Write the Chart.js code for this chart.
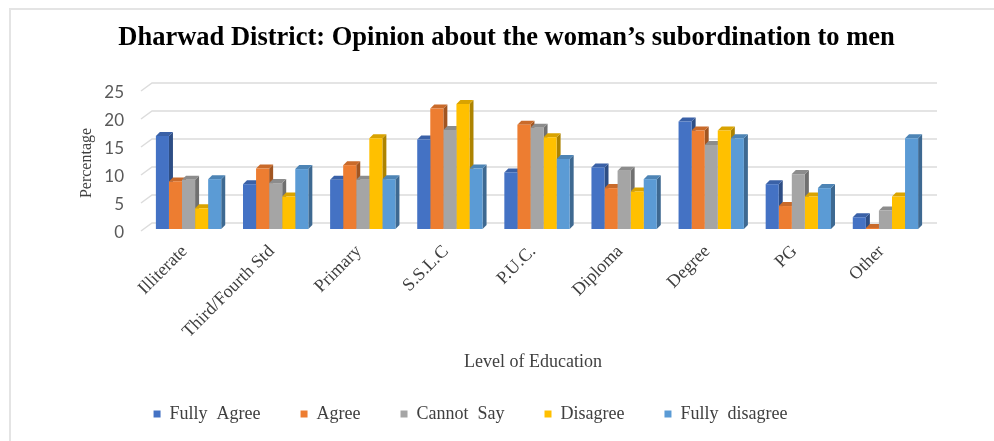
<!DOCTYPE html>
<html>
<head>
<meta charset="utf-8">
<script src="https://cdn.jsdelivr.net/npm/chart.js@4.4.1/dist/chart.umd.min.js"></script>
<style>
  html, body { margin: 0; padding: 0; background: #fff; }
  #wrap { position: relative; width: 994px; height: 441px; overflow: hidden; }
  #frame { position: absolute; left: 9px; top: 8px; width: 1000px; height: 450px;
           border-left: 2px solid #e4e4e4; border-top: 2px solid #e4e4e4; }
  canvas { position: absolute; left: 0; top: 0; }
</style>
</head>
<body>
<div id="wrap">
  <div id="frame"></div>
  <canvas id="chart" width="994" height="441"></canvas>
</div>
<script>
// Level of education groups
const categories = ['Illiterate', 'Third/Fourth Std', 'Primary', 'S.S.L.C', 'P.U.C.', 'Diploma', 'Degree', 'PG', 'Other'];

// Opinion shares (%) per education level
const fullyAgree    = [16.6, 8.0, 8.8, 16.0, 10.1, 11.0, 19.2, 8.0, 2.1];
const agree         = [8.5, 10.8, 11.4, 21.5, 18.6, 7.3, 17.6, 4.1, 0.2];
const cannotSay     = [8.8, 8.2, 8.8, 17.7, 18.1, 10.4, 15.0, 9.8, 3.3];
const disagree      = [3.7, 5.8, 16.2, 22.3, 16.4, 6.7, 17.6, 5.8, 5.8];
const fullyDisagree = [8.9, 10.7, 8.9, 10.8, 12.5, 8.9, 16.2, 7.3, 16.2];

const seriesNames = ['Fully  Agree', 'Agree', 'Cannot  Say', 'Disagree', 'Fully  disagree'];
const seriesColors = ['#4472C4', '#ED7D31', '#A5A5A5', '#FFC000', '#5B9BD5'];
const yTicks = [0, 5, 10, 15, 20, 25];

const SERIF = "'Liberation Serif', 'Times New Roman', serif";

// Bar depth for the pseudo-3D look, and how far the back wall sits behind the axis
const DEPTH = 4;
const BAR_SHIFT = { x: 4, y: -4 };
const WALL = { x: 11, y: -8, lift: -2 };

function shade(hex, f) {
  const n = parseInt(hex.slice(1), 16);
  const r = Math.round(((n >> 16) & 255) * f);
  const g = Math.round(((n >> 8) & 255) * f);
  const b = Math.round((n & 255) * f);
  return `rgb(${r},${g},${b})`;
}

// Back-wall gridlines plus the side/top faces of every bar
const bars3d = {
  id: 'bars3d',
  beforeDatasetsDraw(chart) {
    const ctx = chart.ctx;
    const { left, right } = chart.chartArea;
    const y = chart.scales.y;
    ctx.save();
    ctx.strokeStyle = '#dcdcdc';
    ctx.lineWidth = 1.5;
    yTicks.forEach(v => {
      const py = y.getPixelForValue(v) + WALL.lift;
      ctx.beginPath();
      ctx.moveTo(left, py);
      ctx.lineTo(left + WALL.x, py + WALL.y);
      ctx.lineTo(right + WALL.x + 1, py + WALL.y);
      ctx.stroke();
    });
    ctx.restore();

    ctx.save();
    ctx.translate(BAR_SHIFT.x, BAR_SHIFT.y);
    const metas = chart.data.datasets.map((d, i) => chart.getDatasetMeta(i));
    for (let c = 0; c < categories.length; c++) {
      metas.forEach((meta, di) => {
        const el = meta.data[c];
        if (!el) return;
        const { x, y: top, base, width } = el.getProps(['x', 'y', 'base', 'width']);
        const l = x - width / 2, r = x + width / 2;
        const col = seriesColors[di];
        // right side face
        ctx.fillStyle = shade(col, 0.68);
        ctx.beginPath();
        ctx.moveTo(r, top);
        ctx.lineTo(r + DEPTH, top - DEPTH);
        ctx.lineTo(r + DEPTH, base - DEPTH);
        ctx.lineTo(r, base);
        ctx.closePath();
        ctx.fill();
        // top face
        ctx.fillStyle = shade(col, 0.85);
        ctx.beginPath();
        ctx.moveTo(l, top);
        ctx.lineTo(l + DEPTH, top - DEPTH);
        ctx.lineTo(r + DEPTH, top - DEPTH);
        ctx.lineTo(r, top);
        ctx.closePath();
        ctx.fill();
      });
    }
  },
  afterDatasetsDraw(chart) {
    chart.ctx.restore();
  }
};

// Nudge the title and legend row into place
const blockPlace = {
  id: 'blockPlace',
  afterLayout(chart) {
    const tb = chart.titleBlock;
    tb.left += 9; tb.right += 9;
    const lg = chart.legend;
    lg.left -= 27; lg.right -= 27;
    lg.top -= 8; lg.bottom -= 8;
  }
};

const series = [fullyAgree, agree, cannotSay, disagree, fullyDisagree];

new Chart(document.getElementById('chart'), {
  type: 'bar',
  data: {
    labels: categories,
    datasets: series.map((vals, i) => ({
      label: seriesNames[i],
      data: vals,
      backgroundColor: seriesColors[i],
      borderWidth: 0,
      categoryPercentage: 0.75,
      barPercentage: 1.0,
      clip: false
    }))
  },
  options: {
    responsive: false,
    animation: false,
    events: [],
    layout: { padding: { left: 70, right: 69, top: 0, bottom: 0 } },
    plugins: {
      title: {
        display: true,
        text: 'Dharwad District: Opinion about the woman\u2019s subordination to men',
        color: '#000',
        font: { family: SERIF, size: 26.5, weight: 'bold' },
        padding: { top: 22.6, bottom: 38.6 }
      },
      legend: {
        position: 'bottom',
        maxHeight: 68,
        labels: {
          boxWidth: 7,
          boxHeight: 7,
          padding: 40,
          color: '#404040',
          font: { family: SERIF, size: 18 }
        }
      },
      tooltip: { enabled: false }
    },
    scales: {
      x: {
        grid: { display: false, drawTicks: false },
        border: { display: false },
        ticks: {
          autoSkip: false,
          minRotation: 45,
          maxRotation: 45,
          padding: 8,
          color: '#404040',
          font: { family: SERIF, size: 18 }
        },
        title: {
          display: true,
          text: 'Level of Education',
          color: '#404040',
          font: { family: SERIF, size: 18 },
          padding: { top: 0, bottom: 0 }
        },
        afterFit(axis) { axis.height = 140; }
      },
      y: {
        min: 0,
        max: 25,
        grid: { display: false, drawTicks: false },
        border: { display: false },
        ticks: {
          stepSize: 5,
          padding: 17,
          color: '#595959',
          font: { family: 'Lato, sans-serif', size: 17 }
        },
        title: {
          display: true,
          text: 'Percentage',
          color: '#404040',
          font: { family: SERIF, size: 16 },
          padding: { top: 7, bottom: 0 }
        },
        afterFit(axis) { axis.width = 71; }
      }
    }
  },
  plugins: [bars3d, blockPlace]
});
</script>
</body>
</html>
